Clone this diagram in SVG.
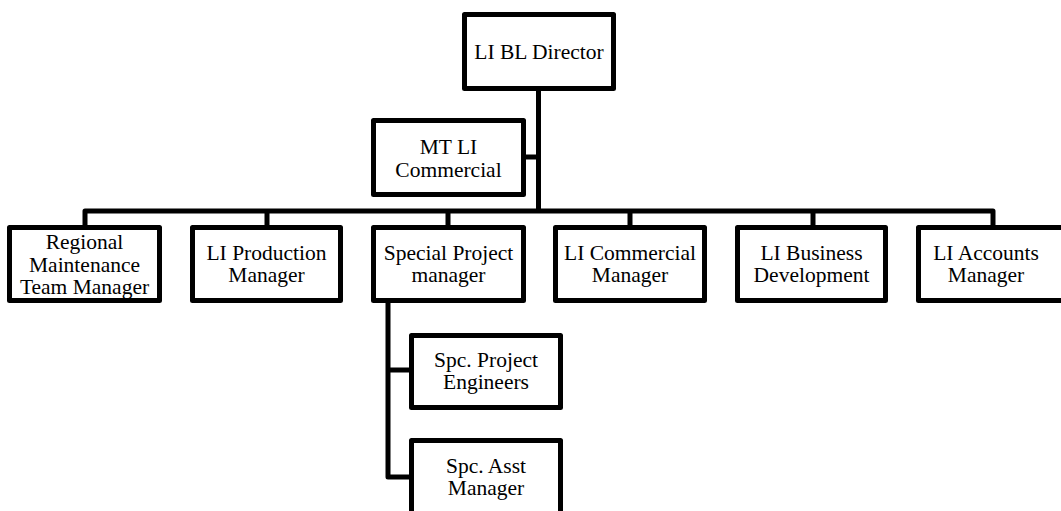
<svg xmlns="http://www.w3.org/2000/svg" width="1061" height="511" viewBox="0 0 1061 511">
<style>
.box{fill:#fff;stroke:#000;stroke-width:5;stroke-linejoin:round}
.t{font-family:"Liberation Serif","Times New Roman",serif;font-size:21.5px;fill:#000;text-anchor:middle}
.c{fill:none;stroke:#000;stroke-width:5;stroke-linejoin:round}
</style>
<rect width="1061" height="511" fill="#fff"/>
<g id="connectors">
<path class="c" d="M538.5,91 V211"/>
<path class="c" d="M85,226 V211 H993 V226"/>
<path class="c" d="M267,211 V226 M448,211 V226 M630,211 V226 M813,211 V226"/>
<path class="c" d="M526,157 H538.5"/>
<path class="c" d="M388,303 V477 H410 M388,370 H410"/>
</g>
<g id="director"><rect class="box" x="464.5" y="14.5" width="149" height="74"/><text class="t" x="539" y="58.5">LI BL Director</text></g>
<g id="mt-commercial"><rect class="box" x="373.5" y="120.5" width="150" height="74"/><text class="t" x="448.5" y="154">MT LI</text><text class="t" x="448.5" y="176.5">Commercial</text></g>
<g id="regional"><rect class="box" x="9.5" y="227.5" width="150" height="73"/><text class="t" x="84.5" y="249">Regional</text><text class="t" x="84.5" y="271.5">Maintenance</text><text class="t" x="84.5" y="294">Team Manager</text></g>
<g id="production"><rect class="box" x="192.5" y="227.5" width="148" height="73"/><text class="t" x="266.5" y="259.5">LI Production</text><text class="t" x="266.5" y="282">Manager</text></g>
<g id="special"><rect class="box" x="373.5" y="227.5" width="150" height="73"/><text class="t" x="448.5" y="259.5">Special Project</text><text class="t" x="448.5" y="282">manager</text></g>
<g id="commercial-mgr"><rect class="box" x="555.5" y="227.5" width="149" height="73"/><text class="t" x="630" y="259.5">LI Commercial</text><text class="t" x="630" y="282">Manager</text></g>
<g id="business"><rect class="box" x="737.5" y="227.5" width="148" height="73"/><text class="t" x="811.5" y="259.5">LI Business</text><text class="t" x="811.5" y="282">Development</text></g>
<g id="accounts"><rect class="box" x="918.5" y="227.5" width="150" height="73"/><text class="t" x="986" y="259.5">LI Accounts</text><text class="t" x="986" y="282">Manager</text></g>
<g id="spc-engineers"><rect class="box" x="411.5" y="335.5" width="149" height="72"/><text class="t" x="486" y="366.5">Spc. Project</text><text class="t" x="486" y="389">Engineers</text></g>
<g id="spc-asst"><rect class="box" x="411.5" y="440.5" width="149" height="80"/><text class="t" x="486" y="472.5">Spc. Asst</text><text class="t" x="486" y="495">Manager</text></g>
</svg>
